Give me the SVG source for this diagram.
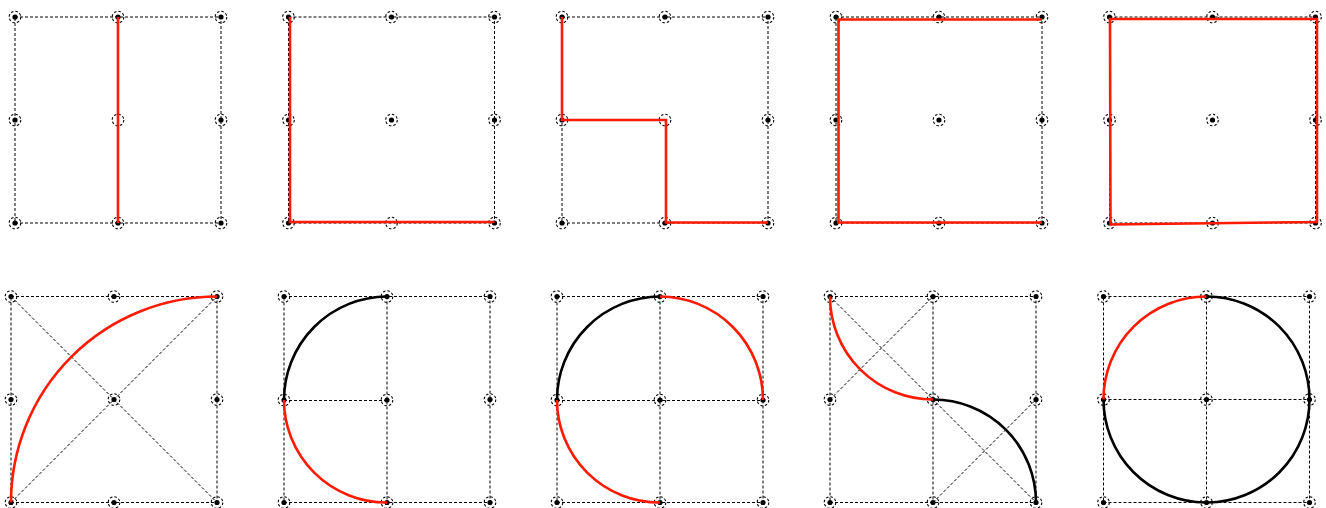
<svg xmlns="http://www.w3.org/2000/svg" xmlns:xlink="http://www.w3.org/1999/xlink" width="1326" height="508" viewBox="0 0 1326 508">
<style>
.g{fill:none;stroke:#000;stroke-width:1;stroke-dasharray:3 2}
.r{fill:none;stroke:#ff1a00;stroke-width:2.6;stroke-linejoin:miter}
.k{fill:none;stroke:#000;stroke-width:2.6}
.pc{fill:none;stroke:#000;stroke-width:1.1;stroke-dasharray:2.5 2}
.pd{fill:#000}
</style>
<defs>
<g id="pt"><circle class="pc" r="5.8"/><circle class="pd" r="2.6"/></g>
<g id="pto"><circle class="pc" r="5.8"/></g>
</defs>
<rect width="1326" height="508" fill="#fff"/>

<g id="panel1">
<rect class="g" x="15" y="17" width="206" height="206"/>
<use href="#pt" x="15" y="17"/><use href="#pt" x="118" y="17"/><use href="#pt" x="221" y="17"/>
<use href="#pt" x="15" y="120"/><use href="#pto" x="118" y="120"/><use href="#pt" x="221" y="120"/>
<use href="#pt" x="15" y="223"/><use href="#pt" x="118" y="223"/><use href="#pt" x="221" y="223"/>
</g>
<g id="panel2">
<rect class="g" x="288.5" y="17" width="206" height="206"/>
<use href="#pt" x="288.5" y="17"/><use href="#pt" x="391.5" y="17"/><use href="#pt" x="494.5" y="17"/>
<use href="#pt" x="288.5" y="120"/><use href="#pt" x="391.5" y="120"/><use href="#pt" x="494.5" y="120"/>
<use href="#pt" x="288.5" y="223"/><use href="#pto" x="391.5" y="223"/><use href="#pt" x="494.5" y="223"/>
</g>
<g id="panel3">
<rect class="g" x="562" y="17" width="206" height="206"/>
<use href="#pt" x="562" y="17"/><use href="#pt" x="665" y="17"/><use href="#pt" x="768" y="17"/>
<use href="#pt" x="562" y="120"/><use href="#pto" x="665" y="120"/><use href="#pt" x="768" y="120"/>
<use href="#pt" x="562" y="223"/><use href="#pt" x="665" y="223"/><use href="#pt" x="768" y="223"/>
</g>
<g id="panel4">
<rect class="g" x="836" y="17" width="206" height="206"/>
<use href="#pt" x="836" y="17"/><use href="#pt" x="939" y="17"/><use href="#pt" x="1042" y="17"/>
<use href="#pt" x="836" y="120"/><use href="#pt" x="939" y="120"/><use href="#pt" x="1042" y="120"/>
<use href="#pt" x="836" y="223"/><use href="#pt" x="939" y="223"/><use href="#pt" x="1042" y="223"/>
</g>
<g id="panel5">
<rect class="g" x="1109.5" y="17" width="206" height="206"/>
<use href="#pt" x="1109.5" y="17"/><use href="#pt" x="1212.5" y="17"/><use href="#pt" x="1315.5" y="17"/>
<use href="#pt" x="1109.5" y="120"/><use href="#pt" x="1212.5" y="120"/><use href="#pt" x="1315.5" y="120"/>
<use href="#pt" x="1109.5" y="223"/><use href="#pt" x="1212.5" y="223"/><use href="#pt" x="1315.5" y="223"/>
</g>

<g id="panel6">
<rect class="g" x="11" y="296.5" width="206" height="206"/>
<line class="g" x1="11" y1="296.5" x2="217" y2="502.5"/>
<line class="g" x1="11" y1="502.5" x2="217" y2="296.5"/>
<use href="#pt" x="11" y="296.5"/><use href="#pt" x="114" y="296.5"/><use href="#pt" x="217" y="296.5"/>
<use href="#pt" x="11" y="399.5"/><use href="#pt" x="114" y="399.5"/><use href="#pt" x="217" y="399.5"/>
<use href="#pt" x="11" y="502.5"/><use href="#pt" x="114" y="502.5"/><use href="#pt" x="217" y="502.5"/>
</g>
<g id="panel7">
<rect class="g" x="284" y="296.5" width="206" height="206"/>
<line class="g" x1="387" y1="296.5" x2="387" y2="502.5"/>
<line class="g" x1="284" y1="400.5" x2="387" y2="400.5"/>
<use href="#pt" x="284" y="296.5"/><use href="#pt" x="387" y="296.5"/><use href="#pt" x="490" y="296.5"/>
<use href="#pt" x="284" y="400"/><use href="#pt" x="387" y="400"/><use href="#pt" x="490" y="399.5"/>
<use href="#pt" x="284" y="502.5"/><use href="#pt" x="387" y="502.5"/><use href="#pt" x="490" y="502.5"/>
</g>
<g id="panel8">
<rect class="g" x="557" y="296.5" width="206" height="206"/>
<line class="g" x1="660" y1="296.5" x2="660" y2="502.5"/>
<line class="g" x1="557" y1="400.5" x2="763" y2="400.5"/>
<use href="#pt" x="557" y="296.5"/><use href="#pt" x="660" y="296.5"/><use href="#pt" x="763" y="296.5"/>
<use href="#pt" x="557" y="400"/><use href="#pt" x="660" y="400"/><use href="#pt" x="763" y="400"/>
<use href="#pt" x="557" y="502.5"/><use href="#pt" x="660" y="502.5"/><use href="#pt" x="763" y="502.5"/>
</g>
<g id="panel9">
<rect class="g" x="830" y="296.5" width="206" height="206"/>
<line class="g" x1="933" y1="296.5" x2="933" y2="502.5"/>
<line class="g" x1="830" y1="296.5" x2="1036" y2="502.5"/>
<line class="g" x1="830" y1="399.5" x2="933" y2="296.5"/>
<line class="g" x1="933" y1="502.5" x2="1036" y2="399.5"/>
<use href="#pt" x="830" y="296.5"/><use href="#pt" x="933" y="296.5"/><use href="#pt" x="1036" y="296.5"/>
<use href="#pt" x="830" y="399.5"/><use href="#pt" x="933" y="399.5"/><use href="#pt" x="1036" y="399.5"/>
<use href="#pt" x="830" y="502.5"/><use href="#pt" x="933" y="502.5"/><use href="#pt" x="1036" y="502.5"/>
</g>
<g id="panel10">
<rect class="g" x="1103.5" y="296.5" width="206" height="206"/>
<line class="g" x1="1206.5" y1="296.5" x2="1206.5" y2="502.5"/>
<line class="g" x1="1103.5" y1="399.5" x2="1309.5" y2="399.5"/>
<use href="#pt" x="1103.5" y="296.5"/><use href="#pt" x="1206.5" y="296.5"/><use href="#pt" x="1309.5" y="296.5"/>
<use href="#pt" x="1103.5" y="399.5"/><use href="#pt" x="1206.5" y="399.5"/><use href="#pt" x="1309.5" y="399.5"/>
<use href="#pt" x="1103.5" y="502.5"/><use href="#pt" x="1206.5" y="502.5"/><use href="#pt" x="1309.5" y="502.5"/>
</g>

<g id="connectors">
<path class="r" d="M118,17 L118,223"/>
<path class="r" d="M290,17 L290,222 L494.5,222"/>
<path class="r" d="M562,17 L562,120 L666,120 L666,222.5 L768,222.5"/>
<path class="r" d="M1042,19.5 L838.5,19.5 L838.5,222.5 L1042,222.5"/>
<path class="r" d="M1110,19 L1317,19 L1317,222 L1110.5,224.5 Z"/>

<path class="r" d="M11,502.5 A206,206 0 0 1 217,296.5"/>
<path class="k" d="M387,296.5 A103.5,103.5 0 0 0 284,400"/>
<path class="r" d="M284,400 A102.5,102.5 0 0 0 387,502.5"/>
<path class="k" d="M557,400 A103.5,103.5 0 0 1 660,296.5"/>
<path class="r" d="M660,296.5 A103.5,103.5 0 0 1 763,400"/>
<path class="r" d="M557,400 A102.5,102.5 0 0 0 660,502.5"/>
<path class="r" d="M830,296.5 A103,103 0 0 0 933,399.5"/>
<path class="k" d="M933,399.5 A103,103 0 0 1 1036,502.5"/>
<path class="r" d="M1103.5,399.5 A103,103 0 0 1 1206.5,296.5"/>
<path class="k" d="M1206.5,296.5 A103,103 0 0 1 1309.5,399.5 A103,103 0 0 1 1207.5,502.5"/>
<path class="k" d="M1205.5,502.5 A103,103 0 0 1 1103.5,399.5"/>
</g>
</svg>
